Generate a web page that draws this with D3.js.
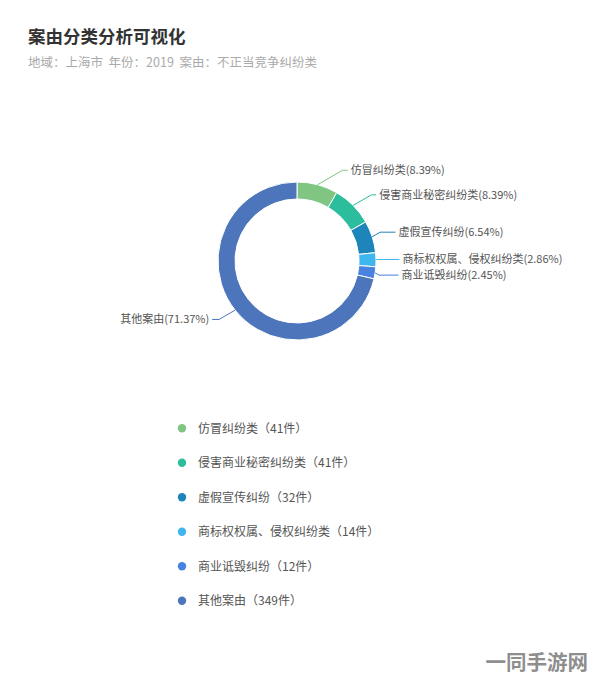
<!DOCTYPE html>
<html><head><meta charset="utf-8">
<script src="https://cdn.jsdelivr.net/npm/d3@7"></script>
<style>
html,body{margin:0;padding:0;background:#fff;}
svg{display:block;font-family:"Noto Sans CJK SC","Noto Sans",sans-serif;}
</style></head>
<body>
<svg id="chart" width="594" height="682"></svg>
<script>
const title = '案由分类分析可视化';
const subtitle = '地域：上海市  年份：2019  案由：不正当竞争纠纷类';
const categories = ['仿冒纠纷类','侵害商业秘密纠纷类','虚假宣传纠纷','商标权权属、侵权纠纷类','商业诋毁纠纷','其他案由'];
const counts = [41,41,32,14,12,349];
const percentLabels = ['8.39%','8.39%','6.54%','2.86%','2.45%','71.37%'];
const colors = ['#80c581','#2cbd9d','#1e85bb','#3fb6ee','#4a82df','#4d75bb'];
const watermark = '一同手游网';

const svg = d3.select('#chart');
const W = 594, H = 682;
svg.append('rect').attr('width',W).attr('height',H).attr('fill','#fff');

svg.append('text').attr('x',28).attr('y',43).attr('font-size',17.5).attr('font-weight','bold')
  .attr('fill','#333').text(title);
svg.append('text').attr('x',28).attr('y',66.5).attr('font-size',12.5)
  .attr('fill','#aaa').attr('xml:space','preserve').style('white-space','pre').text(subtitle);

const cx = 297, cy = 261, R = 79, r0 = 62;
const color = d3.scaleOrdinal().domain(categories).range(colors);
const pie = d3.pie().sort(null).value(d => d.v).startAngle(0).endAngle(2*Math.PI);
const data = categories.map((c,i)=>({c, v:counts[i], p:percentLabels[i]}));
const arcs = pie(data);
const arc = d3.arc().innerRadius(r0).outerRadius(R);

const g = svg.append('g').attr('transform',`translate(${cx},${cy})`);
g.selectAll('path.slice').data(arcs).join('path').attr('class','slice')
  .attr('d',arc).attr('fill',d=>color(d.data.c)).attr('stroke','#fff').attr('stroke-width',1);

// labels with leader lines
const L1 = 15, TR = 105.5, slope = Math.tan(Math.PI/6);
arcs.forEach(d=>{
  const a = (d.startAngle + d.endAngle)/2;
  const s = Math.sin(a), c = Math.cos(a);
  const right = s >= 0;
  const p1 = [R*s, -R*c];
  const ly = -(R+L1)*c;
  const tx = (right?1:-1)*Math.sqrt(Math.max(0, TR*TR - ly*ly));
  const dy = Math.abs(ly - p1[1]);
  let bx = p1[0] + (right?1:-1)*dy/slope;
  const ex = tx + (right?-3:3);
  if (right) bx = Math.min(bx, ex-2); else bx = Math.max(bx, ex+2);
  g.append('polyline').attr('points',[p1,[bx,ly],[ex,ly]].map(p=>p.join(',')).join(' '))
    .attr('fill','none').attr('stroke',color(d.data.c)).attr('stroke-width',1);
  g.append('text').attr('x',tx).attr('y',ly).attr('dy','0.35em')
    .attr('text-anchor',right?'start':'end').attr('font-size',11).attr('fill','#555')
    .text(`${d.data.c}(${d.data.p})`);
});

// legend
const ly0 = 428.3, lstep = 34.5;
const yL = d3.scalePoint().domain(categories).range([ly0, ly0+lstep*(categories.length-1)]);
const lg = svg.append('g');
const items = lg.selectAll('g').data(data).join('g').attr('transform',d=>`translate(182,${yL(d.c)})`);
items.append('circle').attr('r',4.2).attr('fill',d=>color(d.c));
items.append('text').attr('x',16).attr('dy','0.35em').attr('font-size',12).attr('fill','#555')
  .text(d=>`${d.c}（${d.v}件）`);

// watermark
svg.append('text').attr('x',588).attr('y',670).attr('text-anchor','end').attr('font-size',20.5)
  .attr('font-weight','bold').attr('fill','#8e8e8e').attr('stroke','#fff').attr('stroke-width',0.6)
  .attr('paint-order','stroke').text(watermark);
</script>
</body></html>
